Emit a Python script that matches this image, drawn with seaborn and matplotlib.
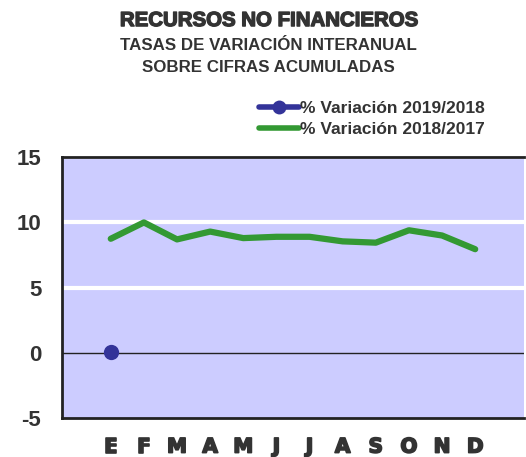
import matplotlib
matplotlib.use("Agg")
import matplotlib.pyplot as plt
import matplotlib.patheffects as pe
import seaborn as sns
import pandas as pd
import numpy as np
from matplotlib.lines import Line2D

months = ["E", "F", "M", "A", "M", "J", "J", "A", "S", "O", "N", "D"]
var_2019_2018 = [0.1]
var_2018_2017 = [8.75, 10.0, 8.7, 9.3, 8.8, 8.9, 8.9, 8.55, 8.45, 9.4, 9.0, 7.95]
yticks = [-5, 0, 5, 10, 15]

sns.set_style("white")
plt.rcParams['font.family'] = ['Liberation Sans', 'DejaVu Sans']

fig = plt.figure(figsize=(5.26, 4.57), dpi=100)
ax = fig.add_axes([0.118, 0.085, 0.878, 0.571])
ax.set_facecolor("#CCCCFF")

df_g = pd.DataFrame({"x": np.arange(len(var_2018_2017)), "y": var_2018_2017})
df_b = pd.DataFrame({"x": np.arange(len(var_2019_2018)), "y": var_2019_2018})

for v in [5, 10, 15]:
    ax.axhline(v, color="white", lw=3, zorder=1)
ax.axhline(0, color="#222222", lw=1, zorder=1)

sns.lineplot(data=df_g, x="x", y="y", ax=ax, color="#339933", lw=4.5,
             solid_capstyle="round", solid_joinstyle="round", zorder=3)
sns.lineplot(data=df_b, x="x", y="y", ax=ax, color="#333399", lw=3,
             marker="o", markersize=11, markeredgewidth=0, zorder=4)

ax.set_xlim(-1.47, 12.47)
ax.set_ylim(-5, 15)
ax.set_xticks(range(len(months)))
ax.set_xticklabels(months)
ax.set_yticks(yticks)
ax.set_yticklabels([str(t) for t in yticks])
ax.set_xlabel("")
ax.set_ylabel("")
ax.tick_params(axis="x", length=0, pad=14)
ax.tick_params(axis="y", length=0, pad=15)
for lab in ax.get_xticklabels():
    lab.set_family(["DejaVu Sans"])
    lab.set_fontweight("bold")
    lab.set_fontsize(14.5)
    lab.set_color("#333333")
    lab.set_path_effects([pe.withStroke(linewidth=1.2, foreground="#333333")])
for lab in ax.get_yticklabels():
    lab.set_fontweight("bold")
    lab.set_fontsize(16)
    lab.set_color("#333333")
for s in ["top", "left", "bottom"]:
    ax.spines[s].set_color("#222222")
    ax.spines[s].set_linewidth(2)
ax.spines["right"].set_visible(False)

fig.text(0.511, 0.955, "RECURSOS NO FINANCIEROS", ha="center", va="center",
         fontsize=14.7, fontweight="bold", color="#333333",
         path_effects=[pe.withStroke(linewidth=1.0, foreground="#333333")])
fig.text(0.511, 0.901, "TASAS DE VARIACIÓN INTERANUAL", ha="center", va="center",
         fontsize=12.2, fontweight="bold", color="#333333")
fig.text(0.511, 0.853, "SOBRE CIFRAS ACUMULADAS", ha="center", va="center",
         fontsize=12.2, fontweight="bold", color="#333333")

handles = [
    Line2D([], [], color="#333399", lw=4, marker="o", markersize=10, markeredgewidth=0),
    Line2D([], [], color="#339933", lw=4),
]
leg = fig.legend(handles, ["% Variación 2019/2018", "% Variación 2018/2017"],
                 loc="center left", bbox_to_anchor=(0.462, 0.744 - 0.0045), frameon=False,
                 handlelength=2.3, handletextpad=0.1, labelspacing=0.3,
                 prop={"weight": "bold", "size": 12.5})
for t in leg.get_texts():
    t.set_color("#333333")

fig.savefig("out.png", dpi=100, facecolor="white")
